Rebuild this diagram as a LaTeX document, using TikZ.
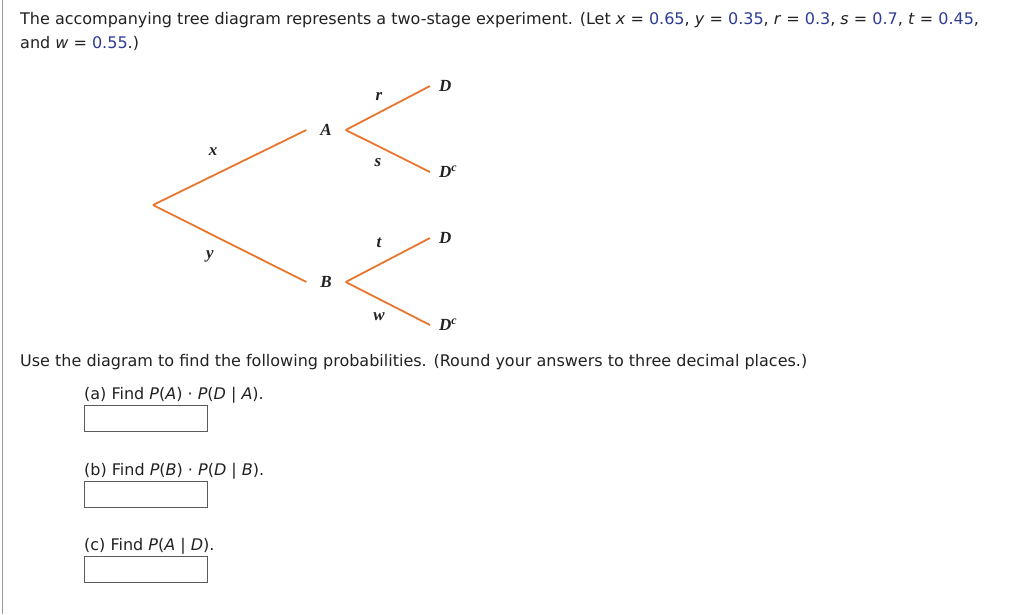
\documentclass[tikz,border=0pt]{standalone}
\usepackage{fontspec}
\setmainfont{DejaVu Sans}
\newfontfamily\treefont{Liberation Serif}
\definecolor{txt}{HTML}{222222}
\definecolor{num}{HTML}{2E3B97}
\definecolor{branch}{HTML}{E8762D}
\definecolor{frame}{HTML}{9A9A9A}
\definecolor{boxline}{HTML}{5A5A5A}
\newcommand{\nm}[1]{\textcolor{num}{#1}}
\newcommand{\vv}[1]{\textit{#1}}
\tikzset{
  body/.style={anchor=base west, inner sep=0pt, text=txt, font=\fontsize{16}{19}\selectfont},
  treelbl/.style={inner sep=0pt, text=txt, font=\treefont\bfseries\itshape\fontsize{17}{20}\selectfont},
  mid/.style={treelbl, minimum width=39pt, minimum height=16pt},
  leaf/.style={treelbl, anchor=west, inner xsep=9pt},
  edge/.style={draw=branch, line width=1.8pt},
  ansbox/.style={draw=boxline, line width=0.9pt, minimum width=123pt, minimum height=26pt, inner sep=0pt}
}
\begin{document}
\begin{tikzpicture}[x=1pt,y=-1pt]
\useasboundingbox (0,0) rectangle (1024,614);
\fill[white] (0,0) rectangle (1024,614);
\draw[frame, line width=1pt] (2,0) -- (2,614);

% header text
\node[body] (l1) at (20,24.5) {The accompanying tree diagram represents a two-stage experiment. (Let \vv{x} = \nm{0.65}, \vv{y} = \nm{0.35}, \vv{r} = \nm{0.3}, \vv{s} = \nm{0.7}, \vv{t} = \nm{0.45},};
\node[body] (l2) at (20,48) {and \vv{w} = \nm{0.55}.)};

% tree
\coordinate (root) at (153,205);
\node[mid] (A) at (326,130) {A};
\node[mid] (B) at (326,282) {B};
\node[leaf] (AD) at (430,86) {D};
\node[leaf] (ADc) at (430,172) {D\textsuperscript{c}};
\node[leaf] (BD) at (430,238) {D};
\node[leaf] (BDc) at (430,325) {D\textsuperscript{c}};

\draw[edge] (root) -- (A.west);
\draw[edge] (root) -- (B.west);
\draw[edge] (A.east) -- (AD.west);
\draw[edge] (A.east) -- (ADc.west);
\draw[edge] (B.east) -- (BD.west);
\draw[edge] (B.east) -- (BDc.west);

\node[treelbl] (lx) at (213,152) {x};
\node[treelbl] (ly) at (210,256) {y};
\node[treelbl] (lr) at (379,96) {r};
\node[treelbl] (ls) at (378,163) {s};
\node[treelbl] (lt) at (379,243) {t};
\node[treelbl] (lw) at (379,317) {w};

% questions
\node[body] (q0) at (20,366.5) {Use the diagram to find the following probabilities. (Round your answers to three decimal places.)};
\node[body] (qa) at (84,399.5) {(a) Find \vv{P}(\vv{A}) · \vv{P}(\vv{D} | \vv{A}).};
\node[ansbox] (ba) at (145.5,418) {};
\node[body] (qb) at (84,475) {(b) Find \vv{P}(\vv{B}) · \vv{P}(\vv{D} | \vv{B}).};
\node[ansbox] (bb) at (145.5,494) {};
\node[body] (qc) at (84,550.5) {(c) Find \vv{P}(\vv{A} | \vv{D}).};
\node[ansbox] (bc) at (145.5,569.5) {};
\end{tikzpicture}
\end{document}
